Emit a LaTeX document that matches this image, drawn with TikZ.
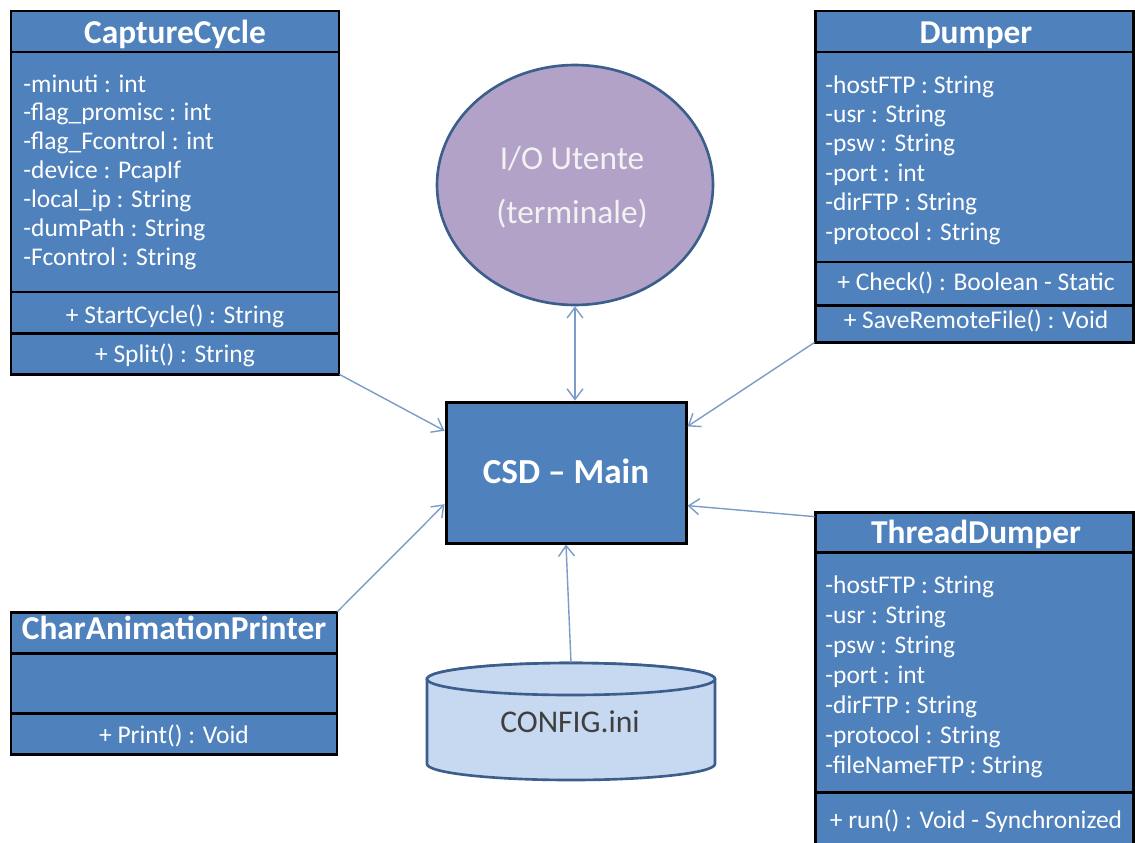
\documentclass[tikz,border=0pt]{standalone}
\usepackage{fontspec}
\setmainfont{Carlito}
\usetikzlibrary{arrows.meta,calc,fit,shapes.geometric}
\definecolor{boxblue}{HTML}{4F81BD}
\definecolor{linkblue}{HTML}{7B9CC6}
\definecolor{ioviolet}{HTML}{B3A2C7}
\definecolor{edgeblue}{HTML}{3B5E8C}
\definecolor{cfgblue}{HTML}{C6D9F1}
\definecolor{iotext}{HTML}{F2F2F2}
\definecolor{cfgtext}{HTML}{3F3F3F}
\begin{document}
\begin{tikzpicture}[x=0.02cm,y=-0.02cm,
  cell/.style={draw=black, line width=1.7pt, fill=boxblue, inner sep=0pt},
  frame/.style={inner sep=0pt},
  title/.style={anchor=base, text=white, font=\fontsize{19}{22}\selectfont\bfseries, inner sep=0pt},
  attr/.style={anchor=base west, text=white, font=\fontsize{14.5}{17}\selectfont, inner sep=0pt},
  meth/.style={anchor=base, text=white, font=\fontsize{14.5}{17}\selectfont, inner sep=0pt},
  link/.style={draw=linkblue, line width=0.8pt, -{Straight Barb[length=6pt,width=9pt]}},
  twolink/.style={draw=linkblue, line width=0.8pt, {Straight Barb[length=6pt,width=9pt]}-{Straight Barb[length=6pt,width=9pt]}},
]
\useasboundingbox (0,0) rectangle (1135,842);
\clip (0,0) rectangle (1135,842);
\fill[white] (0,0) rectangle (1135,842);

% ---------- CaptureCycle ----------
\node[frame, fit={(11,11)(339,374)}] (cc) {};
\node[cell, fit={(11,11)(339,52)}] (cc-t) {};
\node[cell, fit={(11,52)(339,292)}] (cc-a) {};
\node[cell, fit={(11,292)(339,333)}] (cc-m1) {};
\node[cell, fit={(11,333)(339,374)}] (cc-m2) {};
\node[title] (cc-tt) at (175,43) {CaptureCycle};
\foreach \t [count=\i] in {{-minuti : int},{-flag\_promisc : int},{-flag\_Fcontrol : int},{-device : PcapIf},{-local\_ip : String},{-dumPath : String},{-Fcontrol : String}}
  \node[attr] (cc-a\i) at (23,{92+28.9*(\i-1)}) {\t};
\node[meth] (cc-m1t) at (175,323) {+ StartCycle() : String};
\node[meth] (cc-m2t) at (175,362) {+ Split() : String};

% ---------- Dumper ----------
\node[frame, fit={(815,11)(1133,342)}] (dm) {};
\node[cell, fit={(815,11)(1133,52)}] (dm-t) {};
\node[cell, fit={(815,52)(1133,262)}] (dm-a) {};
\node[cell, fit={(815,262)(1133,305)}] (dm-m1) {};
\node[cell, fit={(815,305)(1133,342)}] (dm-m2) {};
\node[title] (dm-tt) at (976,43) {Dumper};
\foreach \t [count=\i] in {{-hostFTP : String},{-usr : String},{-psw : String},{-port : int},{-dirFTP : String},{-protocol : String}}
  \node[attr] (dm-a\i) at (825,{93+29.4*(\i-1)}) {\t};
\node[meth] (dm-m1t) at (976,290) {+ Check() : Boolean - Static};
\node[meth] (dm-m2t) at (976,328) {+ SaveRemoteFile() : Void};

% ---------- ThreadDumper ----------
\node[frame, fit={(815,512)(1133,860)}] (td) {};
\node[cell, fit={(815,512)(1133,552)}] (td-t) {};
\node[cell, fit={(815,552)(1133,792)}] (td-a) {};
\node[cell, fit={(815,792)(1133,860)}] (td-m) {};
\node[title] (td-tt) at (976,543) {ThreadDumper};
\foreach \t [count=\i] in {{-hostFTP : String},{-usr : String},{-psw : String},{-port : int},{-dirFTP : String},{-protocol : String},{-fileNameFTP : String}}
  \node[attr] (td-a\i) at (825,{593+30*(\i-1)}) {\t};
\node[meth] (td-mt) at (976,828) {+ run() : Void - Synchronized};

% ---------- CharAnimationPrinter ----------
\node[frame, fit={(11,612)(337,754)}] (cap) {};
\node[cell, fit={(11,612)(337,653)}] (cap-t) {};
\node[cell, fit={(11,653)(337,713)}] (cap-a) {};
\node[cell, fit={(11,713)(337,754)}] (cap-m) {};
\node[title] (cap-tt) at (174,639) {CharAnimationPrinter};
\node[meth] (cap-mt) at (174,743) {+ Print() : Void};

% ---------- I/O Utente ----------
\node[ellipse, draw=edgeblue, line width=1.5pt, fill=ioviolet, minimum width=5.52cm, minimum height=4.8cm, inner sep=0pt] (io) at (575,185) {};
\node[anchor=base, text=iotext, font=\fontsize{19}{22}\selectfont, inner sep=0pt] (io-l1) at (572,169) {I/O Utente};
\node[anchor=base, text=iotext, font=\fontsize{19}{22}\selectfont, inner sep=0pt] (io-l2) at (572,223) {(terminale)};

% ---------- CSD Main ----------
\node[cell, fit={(446,402)(686,543)}] (main) {};
\node[title, font=\fontsize{20}{24}\selectfont\bfseries] (main-t) at (566,483) {CSD – Main};

% ---------- CONFIG.ini ----------
\node[frame, fit={(427,663)(715,780)}] (cfg) {};
\draw[draw=edgeblue, line width=1.5pt, fill=cfgblue]
  (427,679) -- (427,764) arc[start angle=180, end angle=360, x radius=2.88cm, y radius=0.32cm]
  -- (715,679) arc[start angle=0, end angle=180, x radius=2.88cm, y radius=0.32cm] -- cycle;
\draw[draw=edgeblue, line width=1.5pt, fill=cfgblue] (571,679) ellipse[x radius=2.88cm, y radius=0.32cm];
\node[anchor=base, text=cfgtext, font=\fontsize{18}{22}\selectfont, inner sep=0pt] (cfg-t) at (570,732) {CONFIG.ini};

% ---------- connectors ----------
\draw[link] (cc.south east) -- ($(main.north west)!0.21!(main.south west)$);
\draw[link] (dm.south west) -- ($(main.north east)!0.18!(main.south east)$);
\draw[link] ($(td.north west)+(0,5)$) -- ($(main.north east)!0.73!(main.south east)$);
\draw[link] (cap.north east) -- ($(main.north west)!0.72!(main.south west)$);
\draw[link] (cfg.north) -- (main.south);
\draw[twolink] (io.south) -- (io.south |- main.north);
\end{tikzpicture}
\end{document}
